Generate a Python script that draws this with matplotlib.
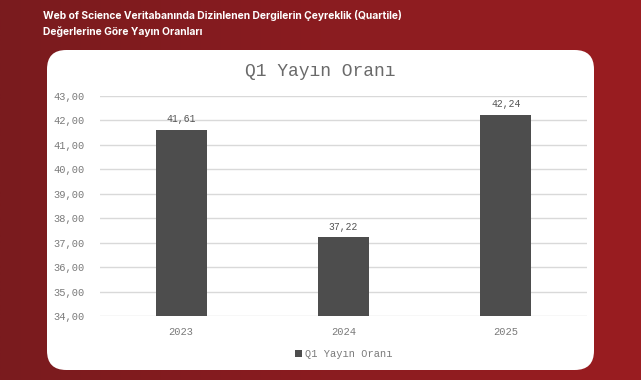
import numpy as np
import matplotlib
matplotlib.use("Agg")
import matplotlib.pyplot as plt
from matplotlib.patches import FancyBboxPatch
from matplotlib.colors import LinearSegmentedColormap

years = ["2023", "2024", "2025"]
values = [41.61, 37.22, 42.24]
value_labels = ["41,61", "37,22", "42,24"]
yticks = [34, 35, 36, 37, 38, 39, 40, 41, 42, 43]
ytick_labels = ["34,00", "35,00", "36,00", "37,00", "38,00", "39,00", "40,00", "41,00", "42,00", "43,00"]
header = "Web of Science Veritabanında Dizinlenen Dergilerin Çeyreklik (Quartile)\nDeğerlerine Göre Yayın Oranları"
chart_title = "Q1 Yayın Oranı"
series_name = "Q1 Yayın Oranı"

W, H = 641, 380
fig = plt.figure(figsize=(W / 100, H / 100), dpi=100)

# background gradient
bg = fig.add_axes([0, 0, 1, 1], zorder=0)
cmap = LinearSegmentedColormap.from_list("r", ["#7a1b1e", "#8a1c20", "#9a1d21"])
grad = np.linspace(0, 1, 256)[None, :]
bg.imshow(grad, aspect="auto", cmap=cmap, extent=[0, 1, 0, 1])
bg.set_xlim(0, 1); bg.set_ylim(0, 1)
bg.axis("off")

# white card
card = FancyBboxPatch((47 / W, 1 - 370 / H), (594 - 47) / W, (370 - 50) / H,
                      boxstyle="round,pad=0,rounding_size=0.03",
                      transform=bg.transAxes, facecolor="white", edgecolor="none",
                      mutation_aspect=W / H)
bg.add_patch(card)

fig.text(43 / W, 1 - 10 / H, header, color="white", fontsize=7.4, fontweight="bold",
         family="Inter", va="top", ha="left", linespacing=1.6)

mono = "Liberation Mono"
gray = "#7a7a7a"

ax = fig.add_axes([100 / W, 1 - 316 / H, 487 / W, 220 / H], zorder=2)
ax.patch.set_alpha(0)
x = np.arange(len(years))
ax.bar(x, values, width=0.315, color="#4d4d4d", zorder=3, label=series_name)
ax.set_ylim(34, 43)
ax.set_xlim(-0.5, 2.5)
ax.set_yticks(yticks)
ax.set_yticklabels(ytick_labels, family=mono, fontsize=7.5, color=gray)
ax.set_xticks(x)
ax.set_xticklabels(years, family=mono, fontsize=7.5, color=gray)
ax.tick_params(length=0, pad=8)
ax.tick_params(axis="y", pad=11)
ax.grid(axis="y", color="#d9d9d9", linewidth=1, zorder=0)
for s in ax.spines.values():
    s.set_visible(False)
for xi, v, lab in zip(x, values, value_labels):
    ax.annotate(lab, (xi, v), xytext=(0, 4), textcoords="offset points",
                ha="center", va="bottom", family=mono, fontsize=7, color="#555555")

fig.text(320 / W, 1 - 72 / H, chart_title, family=mono, fontsize=13, color="#6a6a6a",
         ha="center", va="center")

leg = ax.legend(loc="center", bbox_to_anchor=(0.5, (354 - 316) / -220 * 1.0), frameon=False,
                prop={"family": mono, "size": 7.5}, handlelength=0.7, handleheight=0.7,
                handletextpad=0.3, borderaxespad=0)
for t in leg.get_texts():
    t.set_color(gray)

fig.savefig("out.png", dpi=100)
